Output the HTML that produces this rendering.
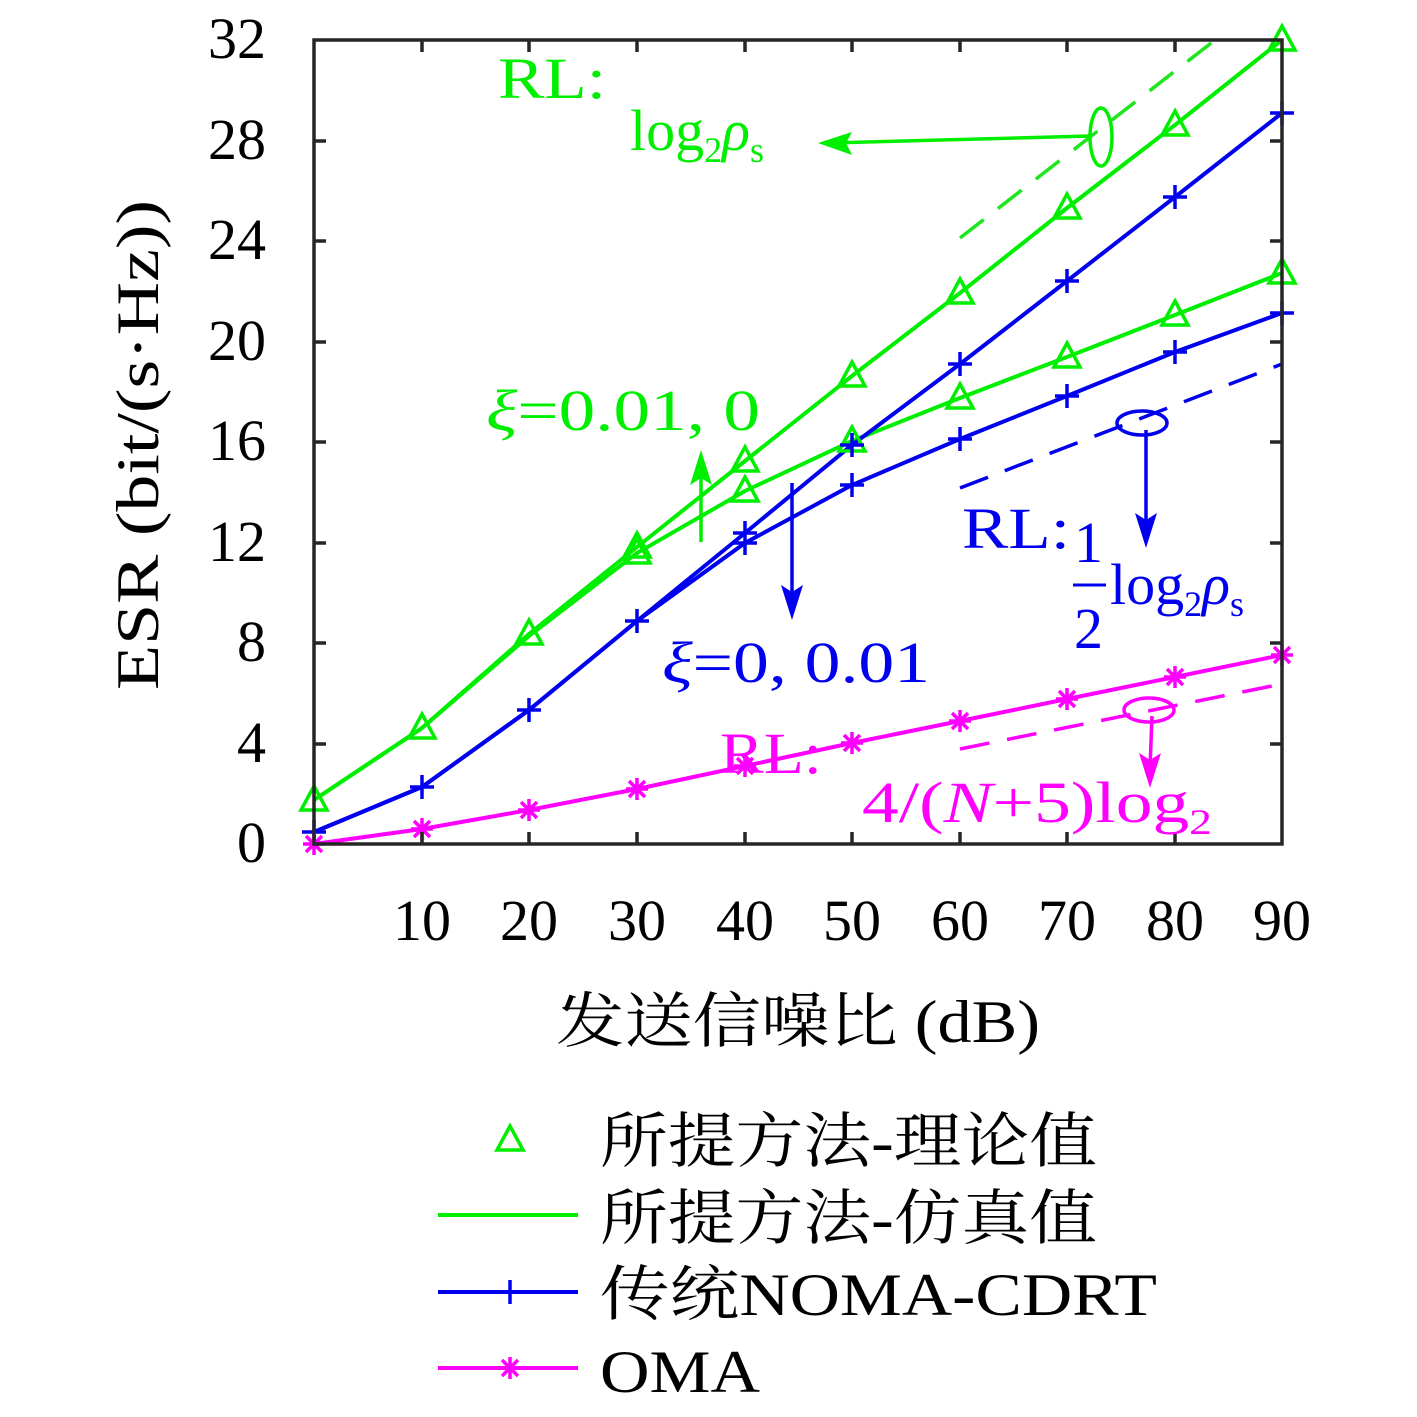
<!DOCTYPE html><html><head><meta charset="utf-8"><style>body{margin:0;background:#fff}svg{display:block}text{font-family:"Liberation Serif","Noto Serif CJK SC",serif}</style></head><body>
<svg width="1417" height="1417" viewBox="0 0 1417 1417" xmlns="http://www.w3.org/2000/svg">
<defs>
<g id="st"><path d="M-11,0h22M0,-11v22M-8,-8L8,8M-8,8L8,-8"/></g>
</defs>
<line x1="960" y1="238" x2="1215" y2="40" stroke="#1ee61e" stroke-width="3.5" stroke-dasharray="30,18"/>
<line x1="960" y1="488" x2="1282" y2="364" stroke="#0000ee" stroke-width="3.5" stroke-dasharray="30,18"/>
<line x1="960" y1="749" x2="1282" y2="684" stroke="#ff00ff" stroke-width="3.5" stroke-dasharray="30,18"/>
<g fill="none" stroke-width="4">
<polyline stroke="#00ee00" points="314,800 422,728 529,634 637,547 745,461 852,376 960,293 1067,208 1175,125 1282,40"/>
<polyline stroke="#00ee00" points="314,800 422,728 529,636 637,553 745,491 852,441 960,398 1067,357 1175,315 1282,273"/>
<polyline stroke="#0000ee" points="314,832 422,787 529,710 637,621 745,533 852,445 960,364 1067,281 1175,197 1282,113"/>
<polyline stroke="#0000ee" points="314,832 422,787 529,710 637,621 745,543 852,485 960,439 1067,396 1175,352 1282,313"/>
<polyline stroke="#ff00ff" points="314,844 422,829 529,810 637,789 745,766 852,743 960,721 1067,699 1175,677 1282,655"/>
</g>
<g fill="none" stroke="#00ee00" stroke-width="3.5">
<path d="M0,-14 L13,10 L-13,10 Z" transform="translate(314,800)"/>
<path d="M0,-14 L13,10 L-13,10 Z" transform="translate(422,728)"/>
<path d="M0,-14 L13,10 L-13,10 Z" transform="translate(529,634)"/>
<path d="M0,-14 L13,10 L-13,10 Z" transform="translate(637,547)"/>
<path d="M0,-14 L13,10 L-13,10 Z" transform="translate(745,461)"/>
<path d="M0,-14 L13,10 L-13,10 Z" transform="translate(852,376)"/>
<path d="M0,-14 L13,10 L-13,10 Z" transform="translate(960,293)"/>
<path d="M0,-14 L13,10 L-13,10 Z" transform="translate(1067,208)"/>
<path d="M0,-14 L13,10 L-13,10 Z" transform="translate(1175,125)"/>
<path d="M0,-14 L13,10 L-13,10 Z" transform="translate(1282,40)"/>
<path d="M0,-14 L13,10 L-13,10 Z" transform="translate(637,553)"/>
<path d="M0,-14 L13,10 L-13,10 Z" transform="translate(745,491)"/>
<path d="M0,-14 L13,10 L-13,10 Z" transform="translate(852,441)"/>
<path d="M0,-14 L13,10 L-13,10 Z" transform="translate(960,398)"/>
<path d="M0,-14 L13,10 L-13,10 Z" transform="translate(1067,357)"/>
<path d="M0,-14 L13,10 L-13,10 Z" transform="translate(1175,315)"/>
<path d="M0,-14 L13,10 L-13,10 Z" transform="translate(1282,273)"/>
<path d="M0,-14 L13,10 L-13,10 Z" transform="translate(510,1140)"/>
</g>
<g stroke="#0000ee" stroke-width="3.5">
<path d="M302,832h24M314,820v24M410,787h24M422,775v24M517,710h24M529,698v24M625,621h24M637,609v24M733,533h24M745,521v24M840,445h24M852,433v24M948,364h24M960,352v24M1055,281h24M1067,269v24M1163,197h24M1175,185v24M1270,113h24M1282,101v24M733,543h24M745,531v24M840,485h24M852,473v24M948,439h24M960,427v24M1055,396h24M1067,384v24M1163,352h24M1175,340v24M1270,313h24M1282,301v24M498,1292h24M510,1280v24"/>
</g>
<g stroke="#ff00ff" stroke-width="3.5">
<use href="#st" x="314" y="844"/><use href="#st" x="422" y="829"/><use href="#st" x="529" y="810"/><use href="#st" x="637" y="789"/><use href="#st" x="745" y="766"/><use href="#st" x="852" y="743"/><use href="#st" x="960" y="721"/><use href="#st" x="1067" y="699"/><use href="#st" x="1175" y="677"/><use href="#st" x="1282" y="655"/><use href="#st" x="510" y="1368"/>
</g>
<rect x="314" y="40" width="968" height="804" fill="none" stroke="#262626" stroke-width="3.5"/>
<g stroke="#262626" stroke-width="3.5">
<path d="M314,744h12M314,643h12M314,543h12M314,442h12M314,342h12M314,241h12M314,141h12M1282,744h-12M1282,643h-12M1282,543h-12M1282,442h-12M1282,342h-12M1282,241h-12M1282,141h-12"/>
<path d="M422,844v-12M529,844v-12M637,844v-12M745,844v-12M852,844v-12M960,844v-12M1067,844v-12M1175,844v-12M422,40v12M529,40v12M637,40v12M745,40v12M852,40v12M960,40v12M1067,40v12M1175,40v12"/>
</g>
<g font-size="58" fill="#000" text-anchor="end">
<text x="266" y="862">0</text><text x="266" y="762">4</text><text x="266" y="661">8</text><text x="266" y="561">12</text><text x="266" y="460">16</text><text x="266" y="360">20</text><text x="266" y="259">24</text><text x="266" y="159">28</text><text x="266" y="58">32</text>
</g>
<g font-size="58" fill="#000" text-anchor="middle">
<text x="422" y="940">10</text><text x="529" y="940">20</text><text x="637" y="940">30</text><text x="745" y="940">40</text><text x="852" y="940">50</text><text x="960" y="940">60</text><text x="1067" y="940">70</text><text x="1175" y="940">80</text><text x="1282" y="940">90</text>
</g>
<text x="556" y="1042" font-size="60" textLength="484" lengthAdjust="spacingAndGlyphs">发送信噪比 (dB)</text>
<text transform="translate(158,690) rotate(-90)" font-size="60" textLength="490" lengthAdjust="spacingAndGlyphs">ESR (bit/(s·Hz))</text>
<g fill="#00ee00" font-size="58">
<text x="498" y="98" textLength="108" lengthAdjust="spacingAndGlyphs">RL:</text>
<text x="630" y="150">log<tspan font-size="36" dy="12">2</tspan><tspan dy="-12" font-style="italic">ρ</tspan><tspan font-size="36" dy="12">s</tspan></text>
<text x="486" y="430" textLength="274" lengthAdjust="spacingAndGlyphs"><tspan font-style="italic">ξ</tspan>=0.01, 0</text>
</g>
<ellipse cx="1101" cy="137" rx="11" ry="29" fill="none" stroke="#00ee00" stroke-width="3.5"/>
<line x1="1090" y1="136" x2="830" y2="143" stroke="#00ee00" stroke-width="3.5"/>
<path d="M818,143 L852,132 L846,143 L852,155Z" fill="#00ee00"/>
<line x1="701" y1="542" x2="701" y2="470" stroke="#00ee00" stroke-width="3.5"/>
<path d="M701,450 L712,485 L701,478 L690,485Z" fill="#00ee00"/>
<line x1="792" y1="483" x2="792" y2="600" stroke="#0000ee" stroke-width="3.5"/>
<path d="M792,620 L781,585 L792,592 L803,585Z" fill="#0000ee"/>
<ellipse cx="1142" cy="423" rx="25" ry="12" fill="none" stroke="#0000ee" stroke-width="3.5"/>
<line x1="1146" y1="430" x2="1146" y2="528" stroke="#0000ee" stroke-width="3.5"/>
<path d="M1146,548 L1135,513 L1146,520 L1157,513Z" fill="#0000ee"/>
<g fill="#0000ee" font-size="58">
<text x="662" y="682" textLength="268" lengthAdjust="spacingAndGlyphs"><tspan font-style="italic">ξ</tspan>=0, 0.01</text>
<text x="962" y="548" textLength="108" lengthAdjust="spacingAndGlyphs">RL:</text>
<text x="1074" y="562">1</text><line x1="1073" y1="585" x2="1106" y2="585" stroke="#0000ee" stroke-width="3"/>
<text x="1074" y="648">2</text>
<text x="1110" y="604">log<tspan font-size="36" dy="12">2</tspan><tspan dy="-12" font-style="italic">ρ</tspan><tspan font-size="36" dy="12">s</tspan></text>
</g>
<ellipse cx="1149" cy="710" rx="25" ry="12" fill="none" stroke="#ff00ff" stroke-width="3.5"/>
<line x1="1152" y1="716" x2="1150" y2="768" stroke="#ff00ff" stroke-width="3.5"/>
<path d="M1150,788 L1139,753 L1150,760 L1161,753Z" fill="#ff00ff"/>
<g fill="#ff00ff" font-size="58">
<text x="720" y="773" textLength="102" lengthAdjust="spacingAndGlyphs">RL:</text>
<text x="862" y="822" textLength="350" lengthAdjust="spacingAndGlyphs">4/(<tspan font-style="italic">N</tspan>+5)log<tspan font-size="36" dy="12">2</tspan></text>
</g>
<g stroke-width="4">
<line x1="438" y1="1215" x2="578" y2="1215" stroke="#00ee00"/>
<line x1="438" y1="1292" x2="578" y2="1292" stroke="#0000ee"/>
<line x1="438" y1="1368" x2="578" y2="1368" stroke="#ff00ff"/>
</g>
<g font-size="60" fill="#000">
<text x="600" y="1162" textLength="497" lengthAdjust="spacingAndGlyphs">所提方法-理论值</text>
<text x="600" y="1239" textLength="497" lengthAdjust="spacingAndGlyphs">所提方法-仿真值</text>
<text x="600" y="1315" textLength="557" lengthAdjust="spacingAndGlyphs">传统NOMA-CDRT</text>
<text x="600" y="1392" textLength="160" lengthAdjust="spacingAndGlyphs">OMA</text>
</g>
</svg>
</body></html>
